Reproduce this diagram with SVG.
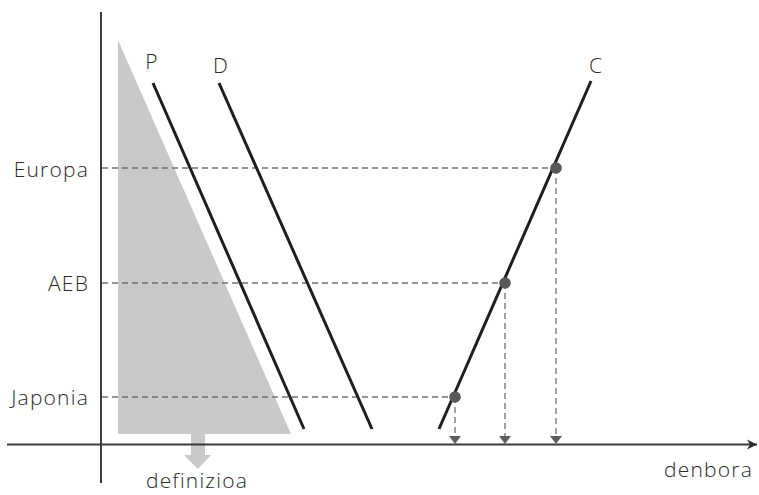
<svg xmlns="http://www.w3.org/2000/svg" width="759" height="495" viewBox="0 0 759 495">
<style>
text{font-family:"Open Sans","Liberation Sans",Arial,sans-serif;font-weight:300;font-size:21px;letter-spacing:1.2px;fill:#2b2b2b}
.ax{stroke:#3c3c3c;stroke-width:2;fill:none}
.ln{stroke:#1e1e1e;stroke-width:3;fill:none;stroke-linecap:butt}
.dash{stroke:#707070;stroke-width:1.3;stroke-dasharray:6,4;fill:none}
.dot{fill:#58585a}
.ah{fill:#5e5e60}
</style>
<defs>
<marker id="axArrow" markerWidth="12" markerHeight="12" refX="10" refY="6" orient="auto" markerUnits="userSpaceOnUse">
<path d="M0,1 L10,6 L0,11 L3,6 Z" fill="#2a2a2a"/>
</marker>
</defs>
<g id="definition-area">
<polygon points="118,40 118,434 291,434" fill="#c8c9cb"/>
<polygon points="191,434 205,434 205,455 211,455 198,469 184,455 191,455" fill="#c8c9cb"/>
</g>
<g id="axes">
<line class="ax" x1="101" y1="12" x2="101" y2="483"/>
<line class="ax" x1="7" y1="444.5" x2="757" y2="444.5" marker-end="url(#axArrow)"/>
</g>
<g id="connectors">
<line class="dash" x1="102" y1="168" x2="556" y2="168"/>
<line class="dash" x1="102" y1="283" x2="505" y2="283"/>
<line class="dash" x1="102" y1="397" x2="455" y2="397"/>
<line class="dash" x1="556" y1="168" x2="556" y2="436"/>
<line class="dash" x1="505" y1="283" x2="505" y2="436"/>
<line class="dash" x1="455" y1="397" x2="455" y2="436"/>
<polygon class="ah" points="550,436 562,436 556,444"/>
<polygon class="ah" points="499,436 511,436 505,444"/>
<polygon class="ah" points="449,436 461,436 455,444"/>
</g>
<g id="P">
<line class="ln" x1="153" y1="83" x2="304" y2="429"/>
<text x="152" y="69" text-anchor="middle">P</text>
</g>
<g id="D">
<line class="ln" x1="219" y1="83" x2="372" y2="429"/>
<text x="221" y="73" text-anchor="middle">D</text>
</g>
<g id="C">
<line class="ln" x1="439" y1="429" x2="591" y2="81"/>
<text x="596" y="73" text-anchor="middle">C</text>
</g>
<g id="points">
<circle class="dot" cx="556" cy="168" r="5.8"/>
<circle class="dot" cx="505" cy="283" r="5.8"/>
<circle class="dot" cx="455" cy="397" r="5.8"/>
</g>
<g id="labels">
<text x="89" y="177" text-anchor="end">Europa</text>
<text x="89" y="291" text-anchor="end">AEB</text>
<text x="89" y="405" text-anchor="end">Japonia</text>
<text x="197" y="488" text-anchor="middle">definizioa</text>
<text x="753" y="477" text-anchor="end">denbora</text>
</g>
</svg>
